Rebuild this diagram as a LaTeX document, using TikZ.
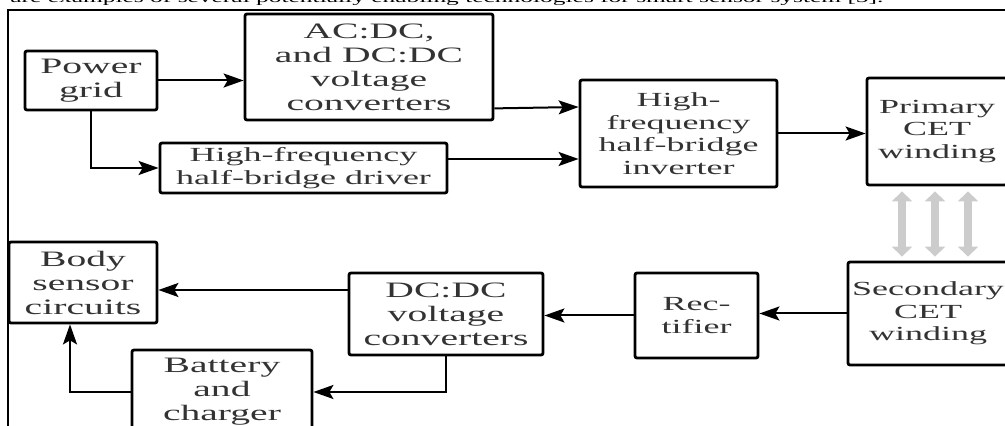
\documentclass[tikz,border=0pt]{standalone}
\usepackage{fontspec}
\setmainfont{Liberation Serif}
\newfontfamily\blkfont[FakeStretch=1.8]{Liberation Serif}
\usetikzlibrary{arrows.meta}

\begin{document}
\begin{tikzpicture}[x=0.5pt, y=-0.5pt, >={Stealth[length=10pt,width=7pt,inset=2pt]},
  blk/.style={draw, line width=1.4pt, rounded corners=1pt, align=center, inner sep=0pt,
    text=black!80, font=\blkfont\fontsize{10}{11.25}\selectfont},
  big/.style={font=\blkfont\fontsize{11}{12}\selectfont},
  ln/.style={->, line width=1pt},
  cpl/.style={{Triangle[length=5pt,width=10pt]}-{Triangle[length=5pt,width=10pt]},
    line width=4pt, draw=black!20, shorten >=2pt, shorten <=2.5pt}]
\useasboundingbox (0,0) rectangle (1005,426);
\clip (0,0) rectangle (1005,426);
\node[anchor=base west, inner sep=0pt, font=\fontsize{7}{8}\selectfont] (cap) at (10,3)
  {\resizebox{436.5pt}{\height}{are examples of several potentially enabling technologies for smart sensor system [5].}};
\draw[line width=1pt] (8,430) -- (8,10.5) -- (1010,10.5);

\node[blk, big, minimum width=66pt, minimum height=29.5pt] (grid) at (91,80.5) {Power\\grid};
\node[blk, big, minimum width=124pt, minimum height=53pt] (conv) at (369,67) {AC:DC,\\and DC:DC\\voltage\\converters};
\node[blk, minimum width=143.5pt, minimum height=25pt] (drv) at (303.5,168) {High-frequency\\half-bridge driver};
\node[blk, minimum width=98.5pt, minimum height=53.5pt] (inv) at (678.5,133.5) {High-\\frequency\\half-bridge\\inverter};
\node[blk, minimum width=70pt, minimum height=53.5pt] (pri) at (937,131.5) {Primary\\CET\\winding};
\node[blk, minimum width=80pt, minimum height=51.5pt] (sec) at (928,313.5) {Secondary\\CET\\winding};
\node[blk, minimum width=61.5pt, minimum height=42.5pt] (rect) at (696.5,315.5) {Rec-\\tifier};
\node[blk, big, minimum width=97pt, minimum height=41pt] (dcdc) at (446,314) {DC:DC\\voltage\\converters};
\node[blk, big, minimum width=74pt, minimum height=40.5pt] (body) at (83,282.5) {Body\\sensor\\circuits};
\node[blk, big, minimum width=90pt, minimum height=42pt] (bat) at (222,392) {Battery\\and\\charger};

\draw[ln] (grid.east) -- (grid.east -| conv.west);
\draw[ln] (grid.south) |- (drv.west);
\draw[ln] ([yshift=6.5pt]conv.south east) -- ([yshift=13.25pt]inv.west);
\draw[ln] ([yshift=4.5pt]drv.east) -- ([yshift=-12.75pt]inv.west);
\draw[ln] (inv.east) -- (inv.east -| pri.west);
\foreach \a/\b in {-17.5/-13, -1/3.5, 15.5/20}
  \draw[cpl] ([xshift=\a pt]pri.south) -- ([xshift=\b pt]sec.north);
\draw[ln] (sec.west) -- (sec.west -| rect.east);
\draw[ln] (rect.west) -- (rect.west -| dcdc.east);
\draw[ln] ([yshift=12pt]dcdc.west) -- ([yshift=-3.75pt]body.east);
\draw[ln] (dcdc.south) |- (bat.east);
\draw[ln] (bat.west) -| ([xshift=-6.5pt]body.south);
\end{tikzpicture}
\end{document}
